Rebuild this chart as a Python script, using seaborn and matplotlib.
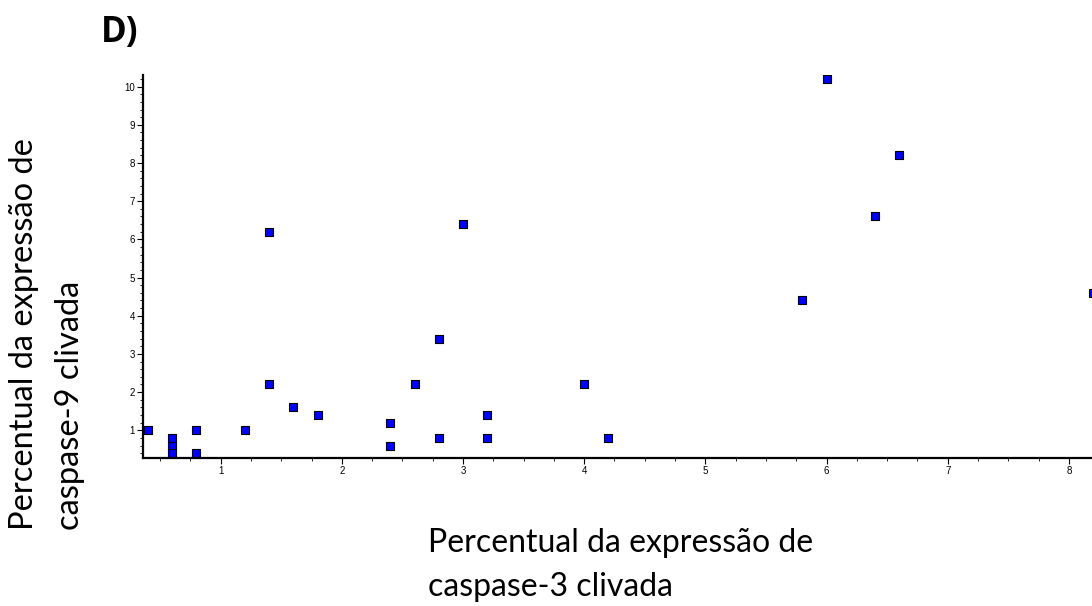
import numpy as np
import pandas as pd
import seaborn as sns
import matplotlib.pyplot as plt
from matplotlib.ticker import MultipleLocator

# valores
casp3 = [0.4, 0.6, 0.6, 0.6, 0.8, 0.8, 1.2, 1.4, 1.4, 1.6, 1.8, 2.4, 2.4, 2.6,
         2.8, 2.8, 3.0, 3.2, 3.2, 4.0, 4.2, 5.8, 6.0, 6.4, 6.6, 8.2]
casp9 = [1.0, 0.8, 0.6, 0.4, 1.0, 0.4, 1.0, 2.2, 6.2, 1.6, 1.4, 1.2, 0.6, 2.2,
         3.4, 0.8, 6.4, 1.4, 0.8, 2.2, 0.8, 4.4, 10.2, 6.6, 8.2, 4.6]
x_ticks = [1, 2, 3, 4, 5, 6, 7, 8]
y_ticks = [1, 2, 3, 4, 5, 6, 7, 8, 9, 10]

df = pd.DataFrame({"casp3": casp3, "casp9": casp9})

sns.set_style("ticks")
plt.rcParams["font.family"] = ["Liberation Sans", "DejaVu Sans"]
plt.rcParams["text.color"] = "black"
plt.rcParams["xtick.color"] = "black"
plt.rcParams["ytick.color"] = "black"
plt.rcParams["axes.edgecolor"] = "black"

fig = plt.figure(figsize=(10.92, 6.06), dpi=100)
ax = fig.add_axes([0.131, 0.244, 0.869, 0.632])

sns.scatterplot(data=df, x="casp3", y="casp9", marker="s", s=30,
                color="#0000ff", edgecolor="black", linewidth=0.8, ax=ax)

ax.set_xlim(0.36, 8.19)
ax.set_ylim(0.27, 10.3)
ax.set_xticks(x_ticks)
ax.set_yticks(y_ticks)
ax.xaxis.set_minor_locator(MultipleLocator(0.25))
ax.yaxis.set_minor_locator(MultipleLocator(0.2))
ax.tick_params(which="major", length=4, width=0.8, labelsize=7, pad=2)
ax.tick_params(which="minor", length=2, width=0.6)
for s in ["top", "right"]:
    ax.spines[s].set_visible(False)
for s in ["left", "bottom"]:
    ax.spines[s].set_linewidth(1.6)
ax.set_xlabel("")
ax.set_ylabel("")

lab_font = ["Lato", "DejaVu Sans"]
fig.text(0.392, 0.006, "Percentual da expressão de\ncaspase-3 clivada",
         ha="left", va="bottom", fontsize=23, family=lab_font,
         linespacing=1.58, multialignment="left")
fig.text(0.043, 0.125, "Percentual da expressão de\ncaspase-9 clivada",
         ha="center", va="bottom", rotation=90, fontsize=23.5,
         family=lab_font, linespacing=1.65, multialignment="left")
fig.text(0.092, 0.945, "D)", fontsize=25, fontweight="bold",
         family=["Open Sans", "DejaVu Sans"], ha="left", va="center")

fig.savefig("out.png", dpi=100)
